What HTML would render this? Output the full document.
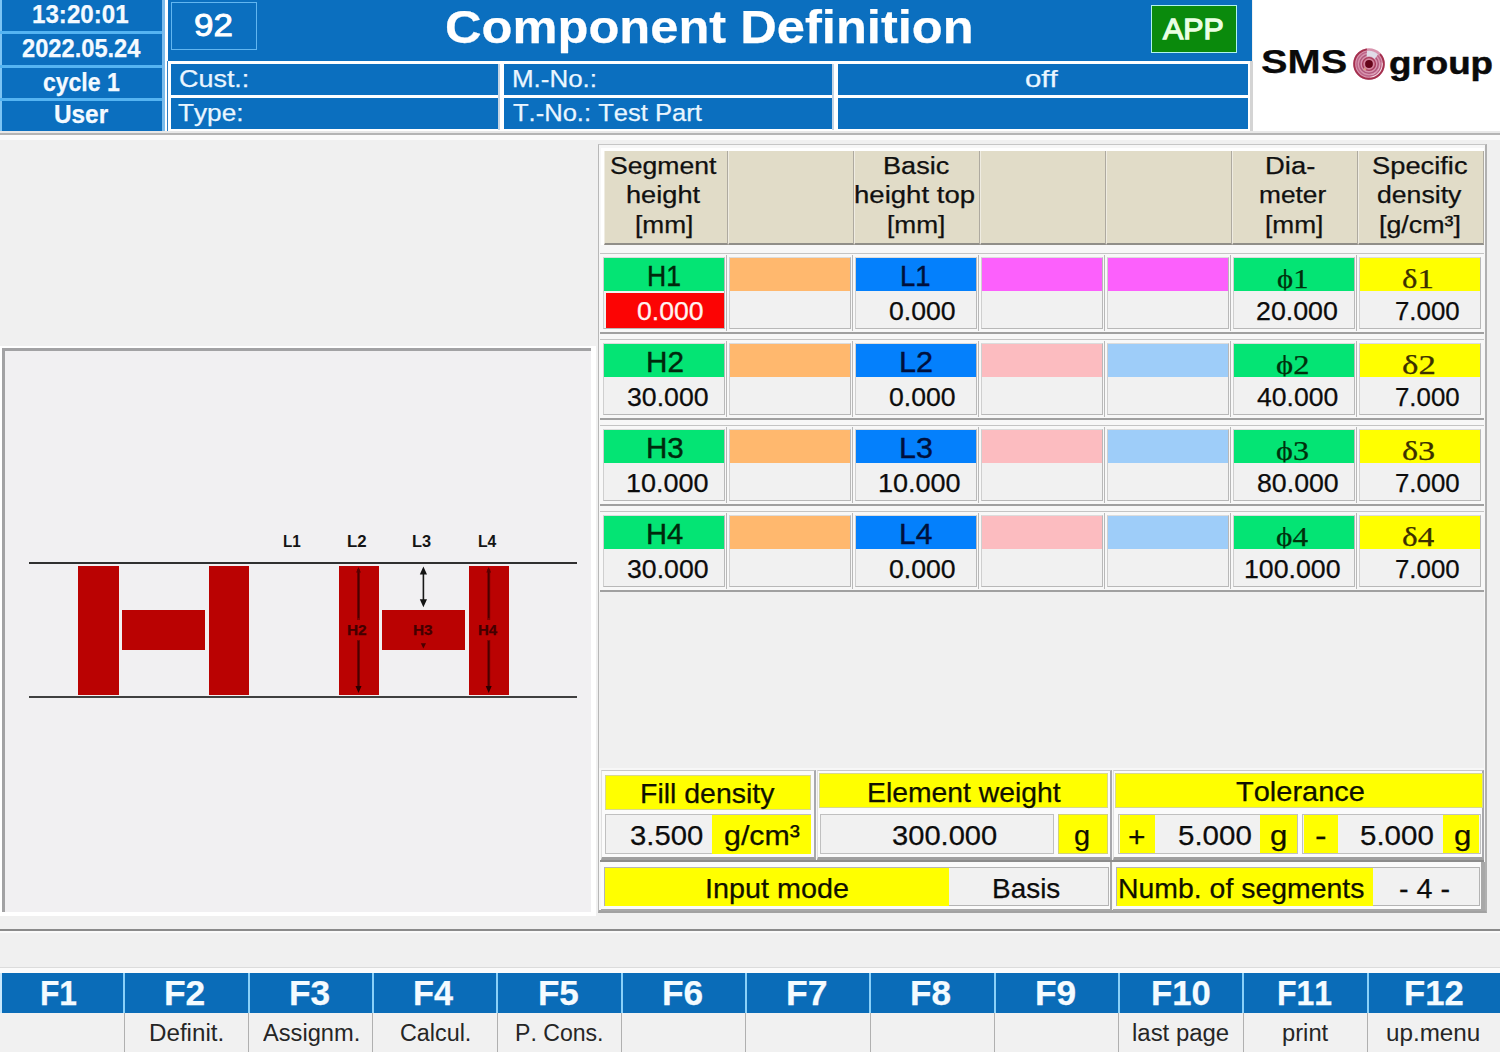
<!DOCTYPE html>
<html><head><meta charset="utf-8"><title>Component Definition</title>
<style>
html,body{margin:0;padding:0;}
body{width:1500px;height:1052px;overflow:hidden;background:#f0f0f0;position:relative;font-family:"Liberation Sans",sans-serif;}
div{position:absolute;box-sizing:border-box;}
#header,#diagram,#table,#fkeys{left:0;top:0;width:1500px;height:0;}
.abs{position:absolute;}
.t{position:absolute;white-space:nowrap;display:inline-block;transform-origin:left center;-webkit-text-stroke:0.25px;font-kerning:none;font-variant-ligatures:none;}
</style></head><body>
<div id="header">
<div style="left:0px;top:0px;width:162px;height:131.2px;background:#0b6fbf;"></div>
<div style="left:0px;top:0px;width:1.5px;height:131px;background:#7cc4f4;"></div>
<div style="left:0px;top:31px;width:162px;height:3px;background:#55b4f2;"></div>
<div style="left:0px;top:65px;width:162px;height:3px;background:#55b4f2;"></div>
<div style="left:0px;top:98px;width:162px;height:3px;background:#55b4f2;"></div>
<div style="left:162px;top:0px;width:2.7px;height:131px;background:#7cbcec;"></div>
<div style="left:164.7px;top:0px;width:3.3px;height:132px;background:#ffffff;"></div>
<span class="t" style="left:31.78px;top:-0.91px;font-size:26px;line-height:31px;color:#f4faff;transform:scaleX(0.9281);font-weight:bold;">13:20:01</span>
<span class="t" style="left:21.68px;top:33.19px;font-size:26px;line-height:31px;color:#f4faff;transform:scaleX(0.9102);font-weight:bold;">2022.05.24</span>
<span class="t" style="left:42.90px;top:67.29px;font-size:26px;line-height:31px;color:#f4faff;transform:scaleX(0.8846);font-weight:bold;">cycle 1</span>
<span class="t" style="left:54.24px;top:99.49px;font-size:26px;line-height:31px;color:#f4faff;transform:scaleX(0.9363);font-weight:bold;">User</span>
<div style="left:168px;top:0px;width:1084px;height:131px;background:#0b6fbf;"></div>
<div style="left:171px;top:2px;width:86px;height:48px;border:1.5px solid #62b6f0;"></div>
<span class="t" style="left:193.86px;top:6.41px;font-size:32px;line-height:38px;color:#fff;transform:scaleX(1.0928);-webkit-text-stroke:0.9px #fff;">92</span>
<span class="t" style="left:445.42px;top:-0.69px;font-size:47px;line-height:56px;color:#fff;transform:scaleX(1.0772);font-weight:bold;">Component Definition</span>
<div style="left:1151px;top:5px;width:86px;height:48px;background:#0a8a0c;border:1.5px solid #b0f4ec;"></div>
<span class="t" style="left:1163.44px;top:10.90px;font-size:30px;line-height:36px;color:#eaffe4;transform:scaleX(1.0105);-webkit-text-stroke:1.3px #eaffe4;">APP</span>
<div style="left:168px;top:60.5px;width:1082px;height:71.5px;background:#ffffff;"></div>
<div style="left:171px;top:63.5px;width:327px;height:31.5px;background:#0b6fbf;"></div>
<div style="left:171px;top:98px;width:327px;height:31px;background:#0b6fbf;"></div>
<div style="left:504px;top:63.5px;width:328px;height:31.5px;background:#0b6fbf;"></div>
<div style="left:504px;top:98px;width:328px;height:31px;background:#0b6fbf;"></div>
<div style="left:838px;top:63.5px;width:409.5px;height:31.5px;background:#0b6fbf;"></div>
<div style="left:838px;top:98px;width:409.5px;height:31px;background:#0b6fbf;"></div>
<div style="left:498px;top:63.5px;width:2px;height:66px;background:#c4d4e4;"></div>
<div style="left:832px;top:63.5px;width:2px;height:66px;background:#c4d4e4;"></div>
<div style="left:167.3px;top:61px;width:1px;height:70px;background:#2a7cc4;"></div>
<span class="t" style="left:179.13px;top:64.11px;font-size:24.5px;line-height:29px;color:#eaf6ff;transform:scaleX(1.0990);">Cust.:</span>
<span class="t" style="left:178.41px;top:98.01px;font-size:24.5px;line-height:29px;color:#eaf6ff;transform:scaleX(1.0686);">Type:</span>
<span class="t" style="left:512.37px;top:64.11px;font-size:24.5px;line-height:29px;color:#eaf6ff;transform:scaleX(1.0584);">M.-No.:</span>
<span class="t" style="left:512.93px;top:98.01px;font-size:24.5px;line-height:29px;color:#eaf6ff;transform:scaleX(1.0425);">T.-No.: Test Part</span>
<span class="t" style="left:1025.27px;top:64.11px;font-size:24.5px;line-height:29px;color:#eaf6ff;transform:scaleX(1.2002);">off</span>
<div style="left:1253px;top:0px;width:247px;height:132px;background:#ffffff;"></div>
<div style="left:1250px;top:60.5px;width:2.5px;height:72px;background:#d4d4d4;"></div>
<div style="left:0px;top:131px;width:1500px;height:1.5px;background:#e8e8e8;"></div>
<div style="left:0px;top:132.5px;width:1500px;height:2px;background:#b4b4b4;"></div>
<div style="left:0px;top:134.5px;width:1500px;height:5px;background:#fafafa;"></div>
<span class="t" style="left:1261.35px;top:41.87px;font-size:33px;line-height:40px;color:#0a0a0a;transform:scaleX(1.2054);font-weight:bold;">SMS</span>
<span class="t" style="left:1389.49px;top:43.91px;font-size:32px;line-height:38px;color:#0a0a0a;transform:scaleX(1.1475);font-weight:bold;-webkit-text-stroke:0.5px;">group</span>
<svg class="abs" style="left:1349.8px;top:44.8px" width="38" height="38" viewBox="-19 -19 38 38">
<circle r="15.8" fill="#d894ae"/>
<path d="M2,11 A11.5,11.5 0 0 0 11,-2 L14,-1 A14,14 0 0 1 1,14 Z" fill="#f6dde6"/>
<circle r="14.8" fill="none" stroke="#a4304e" stroke-width="1.9" stroke-dasharray="78 15" transform="rotate(-42)"/>
<circle r="12" fill="none" stroke="#bc6488" stroke-width="1.5"/>
<circle r="9.3" fill="none" stroke="#b0587c" stroke-width="1.5"/>
<path d="M-2,-13 A13,13 0 0 1 9,-9.4 L5.6,-5 A7.5,7.5 0 0 0 -2.4,-7.2 Z" fill="#e0dce8"/>
<circle r="6.8" fill="#d4849e"/>
<circle r="6.4" fill="none" stroke="#a83c5c" stroke-width="1.4"/>
<path d="M-4.6,3 L-5.4,6.6 L-2.4,5.6 Z" fill="#dca088"/>
<circle r="3.9" fill="#640418"/>
</svg>
</div>
<div id="diagram">
<div style="left:0px;top:346px;width:595.6px;height:569.6px;background:#ffffff;"></div>
<div style="left:2px;top:348px;width:589.4px;height:564px;background:#f1f0f2;border-top:3px solid #a2a2a4;border-left:3px solid #a2a2a4;"></div>
<div style="left:29px;top:562px;width:548px;height:2px;background:#303030;"></div>
<div style="left:29px;top:695.5px;width:548px;height:2px;background:#404040;"></div>
<div style="left:78px;top:565.5px;width:40.5px;height:129.5px;background:#ba0202;"></div>
<div style="left:121.5px;top:610px;width:83.5px;height:39.5px;background:#ba0202;"></div>
<div style="left:208.5px;top:565.5px;width:40.19999999999999px;height:129.5px;background:#ba0202;"></div>
<div style="left:339px;top:565.5px;width:40px;height:129.5px;background:#ba0202;"></div>
<div style="left:381.5px;top:610px;width:83.5px;height:39.5px;background:#ba0202;"></div>
<div style="left:469.3px;top:565.5px;width:39.69999999999999px;height:129.5px;background:#ba0202;"></div>
<span class="t" style="left:282.78px;top:530.58px;font-size:16.5px;line-height:20px;color:#141414;transform:scaleX(0.9270);font-weight:bold;-webkit-text-stroke:0;">L1</span>
<span class="t" style="left:347.48px;top:530.58px;font-size:16.5px;line-height:20px;color:#141414;transform:scaleX(1.0177);font-weight:bold;-webkit-text-stroke:0;">L2</span>
<span class="t" style="left:412.31px;top:530.58px;font-size:16.5px;line-height:20px;color:#141414;transform:scaleX(0.9911);font-weight:bold;-webkit-text-stroke:0;">L3</span>
<span class="t" style="left:477.95px;top:530.58px;font-size:16.5px;line-height:20px;color:#141414;transform:scaleX(0.9522);font-weight:bold;-webkit-text-stroke:0;">L4</span>
<svg class="abs" style="left:330px;top:560px" width="190" height="140" viewBox="330 560 190 140">
<line x1="423.4" y1="572" x2="423.4" y2="602" stroke="#181818" stroke-width="1.6"/>
<path d="M423.4,566.5 l-3.6,8 h7.2z M423.4,607.2 l-3.6,-8 h7.2z" fill="#141414"/>
<g stroke="#7c0000" stroke-width="3">
<line x1="358.5" y1="569" x2="358.5" y2="620"/><line x1="358.5" y1="640" x2="358.5" y2="688"/>
<line x1="488.7" y1="569" x2="488.7" y2="620"/><line x1="488.7" y1="640" x2="488.7" y2="688"/>
</g>
<g stroke="#4a0000" stroke-width="1.4">
<line x1="358.5" y1="571" x2="358.5" y2="618"/><line x1="358.5" y1="641" x2="358.5" y2="688"/>
<line x1="488.7" y1="571" x2="488.7" y2="618"/><line x1="488.7" y1="641" x2="488.7" y2="688"/>
</g>
<path d="M358.5,567 l-2.4,5.5 h4.8z M488.7,567 l-2.4,5.5 h4.8z" fill="#5a0000"/>
<path d="M358.5,693 l-3,-7 h6z M488.7,693 l-3,-7 h6z" fill="#2a0000"/>
<path d="M423.4,648.6 l-2.6,-5.4 h5.2z" fill="#4a0000"/>
</svg>
<span class="t" style="left:346.97px;top:621.65px;font-size:14px;line-height:17px;color:#420000;transform:scaleX(1.0976);font-weight:bold;">H2</span>
<span class="t" style="left:412.98px;top:621.65px;font-size:14px;line-height:17px;color:#420000;transform:scaleX(1.0940);font-weight:bold;">H3</span>
<span class="t" style="left:477.50px;top:621.65px;font-size:14px;line-height:17px;color:#420000;transform:scaleX(1.0660);font-weight:bold;">H4</span>
</div>
<div id="table">
<div style="left:597.5px;top:144px;width:889.5px;height:769px;background:#f7f7f7;border:1.5px solid #b8b8b8;border-top-color:#c6c6c6;border-bottom:3px solid #a2a2a2;border-right:2.5px solid #b0b0b0;"></div>
<div style="left:599px;top:592px;width:885px;height:176px;background:#f0f0f0;"></div>
<div style="left:601px;top:148px;width:883px;height:97px;background:#ffffff;"></div>
<div style="left:603.5px;top:150.5px;width:124.3px;height:94px;background:#e1dcc8;border-right:1.5px solid #aeaaa0;border-bottom:2px solid #908e88;border-left:1.5px solid #efece2;"></div>
<div style="left:727.8px;top:150.5px;width:126px;height:94px;background:#e1dcc8;border-right:1.5px solid #aeaaa0;border-bottom:2px solid #908e88;border-left:1.5px solid #efece2;"></div>
<div style="left:853.8px;top:150.5px;width:126px;height:94px;background:#e1dcc8;border-right:1.5px solid #aeaaa0;border-bottom:2px solid #908e88;border-left:1.5px solid #efece2;"></div>
<div style="left:979.8px;top:150.5px;width:126px;height:94px;background:#e1dcc8;border-right:1.5px solid #aeaaa0;border-bottom:2px solid #908e88;border-left:1.5px solid #efece2;"></div>
<div style="left:1105.8px;top:150.5px;width:126px;height:94px;background:#e1dcc8;border-right:1.5px solid #aeaaa0;border-bottom:2px solid #908e88;border-left:1.5px solid #efece2;"></div>
<div style="left:1231.8px;top:150.5px;width:126px;height:94px;background:#e1dcc8;border-right:1.5px solid #aeaaa0;border-bottom:2px solid #908e88;border-left:1.5px solid #efece2;"></div>
<div style="left:1357.8px;top:150.5px;width:126px;height:94px;background:#e1dcc8;border-right:1.5px solid #aeaaa0;border-bottom:2px solid #908e88;border-left:1.5px solid #efece2;"></div>
<span class="t" style="left:610.29px;top:151.66px;font-size:23.5px;line-height:28px;color:#101010;transform:scaleX(1.1312);">Segment</span>
<span class="t" style="left:626.11px;top:181.46px;font-size:23.5px;line-height:28px;color:#101010;transform:scaleX(1.1571);">height</span>
<span class="t" style="left:634.83px;top:211.26px;font-size:23.5px;line-height:28px;color:#101010;transform:scaleX(1.1175);">[mm]</span>
<span class="t" style="left:883.33px;top:151.66px;font-size:23.5px;line-height:28px;color:#101010;transform:scaleX(1.1526);">Basic</span>
<span class="t" style="left:854.09px;top:181.46px;font-size:23.5px;line-height:28px;color:#101010;transform:scaleX(1.1729);">height top</span>
<span class="t" style="left:886.83px;top:211.26px;font-size:23.5px;line-height:28px;color:#101010;transform:scaleX(1.1175);">[mm]</span>
<span class="t" style="left:1265.05px;top:151.66px;font-size:23.5px;line-height:28px;color:#101010;transform:scaleX(1.1666);">Dia-</span>
<span class="t" style="left:1258.55px;top:181.46px;font-size:23.5px;line-height:28px;color:#101010;transform:scaleX(1.1184);">meter</span>
<span class="t" style="left:1264.83px;top:211.26px;font-size:23.5px;line-height:28px;color:#101010;transform:scaleX(1.1175);">[mm]</span>
<span class="t" style="left:1371.96px;top:151.66px;font-size:23.5px;line-height:28px;color:#101010;transform:scaleX(1.1613);">Specific</span>
<span class="t" style="left:1377.28px;top:181.46px;font-size:23.5px;line-height:28px;color:#101010;transform:scaleX(1.1331);">density</span>
<span class="t" style="left:1379.09px;top:211.26px;font-size:23.5px;line-height:28px;color:#101010;transform:scaleX(1.1394);">[g/cm³]</span>
<div style="left:600px;top:253px;width:884px;height:80.5px;background:#f8f8f8;border-top:1px solid #c4c4c4;border-bottom:2px solid #a0a0a0;"></div>
<div style="left:603px;top:257px;width:122px;height:71.5px;background:#f1f1f1;border:1px solid #b8b8b8;border-top-color:#dcdcdc;border-left-color:#cfcfcf;"></div>
<div style="left:604px;top:258px;width:120px;height:33px;background:#04e474;"></div>
<div style="left:606px;top:293px;width:117.5px;height:34.5px;background:#fc0404;"></div>
<span class="t" style="left:646.87px;top:257.58px;font-size:29.5px;line-height:35px;color:#00280c;transform:scaleX(0.9010);-webkit-text-stroke:0.4px;">H1</span>
<span class="t" style="left:637.06px;top:295.64px;font-size:25px;line-height:30px;color:#fff4f0;transform:scaleX(1.0642);">0.000</span>
<div style="left:726px;top:255px;width:1px;height:76px;background:#b8b8b8;"></div>
<div style="left:729px;top:257px;width:122px;height:71.5px;background:#f1f1f1;border:1px solid #b8b8b8;border-top-color:#dcdcdc;border-left-color:#cfcfcf;"></div>
<div style="left:730px;top:258px;width:120px;height:33px;background:#ffb86e;"></div>
<div style="left:852px;top:255px;width:1px;height:76px;background:#b8b8b8;"></div>
<div style="left:855px;top:257px;width:122px;height:71.5px;background:#f1f1f1;border:1px solid #b8b8b8;border-top-color:#dcdcdc;border-left-color:#cfcfcf;"></div>
<div style="left:856px;top:258px;width:120px;height:33px;background:#0480fc;"></div>
<span class="t" style="left:899.74px;top:257.58px;font-size:29.5px;line-height:35px;color:#00103c;transform:scaleX(0.9326);-webkit-text-stroke:0.4px;">L1</span>
<span class="t" style="left:889.06px;top:295.64px;font-size:25px;line-height:30px;color:#0c0c0c;transform:scaleX(1.0642);">0.000</span>
<div style="left:978px;top:255px;width:1px;height:76px;background:#b8b8b8;"></div>
<div style="left:981px;top:257px;width:122px;height:71.5px;background:#f1f1f1;border:1px solid #b8b8b8;border-top-color:#dcdcdc;border-left-color:#cfcfcf;"></div>
<div style="left:982px;top:258px;width:120px;height:33px;background:#fc60fc;"></div>
<div style="left:1104px;top:255px;width:1px;height:76px;background:#b8b8b8;"></div>
<div style="left:1107px;top:257px;width:122px;height:71.5px;background:#f1f1f1;border:1px solid #b8b8b8;border-top-color:#dcdcdc;border-left-color:#cfcfcf;"></div>
<div style="left:1108px;top:258px;width:120px;height:33px;background:#fc60fc;"></div>
<div style="left:1230px;top:255px;width:1px;height:76px;background:#b8b8b8;"></div>
<div style="left:1233px;top:257px;width:122px;height:71.5px;background:#f1f1f1;border:1px solid #b8b8b8;border-top-color:#dcdcdc;border-left-color:#cfcfcf;"></div>
<div style="left:1234px;top:258px;width:120px;height:33px;background:#04e474;"></div>
<span class="t" style="left:1276.67px;top:262.05px;font-size:28px;line-height:34px;color:#00300c;transform:scaleX(1.0952);font-family:'Liberation Serif',serif;clip-path:inset(0 0 5.5px 0);">ϕ1</span>
<span class="t" style="left:1256.35px;top:295.64px;font-size:25px;line-height:30px;color:#0c0c0c;transform:scaleX(1.0710);">20.000</span>
<div style="left:1356px;top:255px;width:1px;height:76px;background:#b8b8b8;"></div>
<div style="left:1359px;top:257px;width:122px;height:71.5px;background:#f1f1f1;border:1px solid #b8b8b8;border-top-color:#dcdcdc;border-left-color:#cfcfcf;"></div>
<div style="left:1360px;top:258px;width:120px;height:33px;background:#ffff00;"></div>
<span class="t" style="left:1402.47px;top:262.05px;font-size:28px;line-height:34px;color:#3c3000;transform:scaleX(1.1693);font-family:'Liberation Serif',serif;clip-path:inset(0 0 5.5px 0);">δ1</span>
<span class="t" style="left:1394.58px;top:295.64px;font-size:25px;line-height:30px;color:#0c0c0c;transform:scaleX(1.0331);">7.000</span>
<div style="left:600px;top:339px;width:884px;height:80.5px;background:#f8f8f8;border-top:1px solid #c4c4c4;border-bottom:2px solid #a0a0a0;"></div>
<div style="left:603px;top:343px;width:122px;height:71.5px;background:#f1f1f1;border:1px solid #b8b8b8;border-top-color:#dcdcdc;border-left-color:#cfcfcf;"></div>
<div style="left:604px;top:344px;width:120px;height:33px;background:#04e474;"></div>
<span class="t" style="left:645.87px;top:343.58px;font-size:29.5px;line-height:35px;color:#00280c;transform:scaleX(1.0057);-webkit-text-stroke:0.4px;">H2</span>
<span class="t" style="left:626.68px;top:381.64px;font-size:25px;line-height:30px;color:#0c0c0c;transform:scaleX(1.0666);">30.000</span>
<div style="left:726px;top:341px;width:1px;height:76px;background:#b8b8b8;"></div>
<div style="left:729px;top:343px;width:122px;height:71.5px;background:#f1f1f1;border:1px solid #b8b8b8;border-top-color:#dcdcdc;border-left-color:#cfcfcf;"></div>
<div style="left:730px;top:344px;width:120px;height:33px;background:#ffb86e;"></div>
<div style="left:852px;top:341px;width:1px;height:76px;background:#b8b8b8;"></div>
<div style="left:855px;top:343px;width:122px;height:71.5px;background:#f1f1f1;border:1px solid #b8b8b8;border-top-color:#dcdcdc;border-left-color:#cfcfcf;"></div>
<div style="left:856px;top:344px;width:120px;height:33px;background:#0480fc;"></div>
<span class="t" style="left:898.99px;top:343.58px;font-size:29.5px;line-height:35px;color:#00103c;transform:scaleX(1.0377);-webkit-text-stroke:0.4px;">L2</span>
<span class="t" style="left:889.06px;top:381.64px;font-size:25px;line-height:30px;color:#0c0c0c;transform:scaleX(1.0642);">0.000</span>
<div style="left:978px;top:341px;width:1px;height:76px;background:#b8b8b8;"></div>
<div style="left:981px;top:343px;width:122px;height:71.5px;background:#f1f1f1;border:1px solid #b8b8b8;border-top-color:#dcdcdc;border-left-color:#cfcfcf;"></div>
<div style="left:982px;top:344px;width:120px;height:33px;background:#fcbcc0;"></div>
<div style="left:1104px;top:341px;width:1px;height:76px;background:#b8b8b8;"></div>
<div style="left:1107px;top:343px;width:122px;height:71.5px;background:#f1f1f1;border:1px solid #b8b8b8;border-top-color:#dcdcdc;border-left-color:#cfcfcf;"></div>
<div style="left:1108px;top:344px;width:120px;height:33px;background:#9ecdf9;"></div>
<div style="left:1230px;top:341px;width:1px;height:76px;background:#b8b8b8;"></div>
<div style="left:1233px;top:343px;width:122px;height:71.5px;background:#f1f1f1;border:1px solid #b8b8b8;border-top-color:#dcdcdc;border-left-color:#cfcfcf;"></div>
<div style="left:1234px;top:344px;width:120px;height:33px;background:#04e474;"></div>
<span class="t" style="left:1276.10px;top:348.05px;font-size:28px;line-height:34px;color:#00300c;transform:scaleX(1.1657);font-family:'Liberation Serif',serif;clip-path:inset(0 0 5.5px 0);">ϕ2</span>
<span class="t" style="left:1257.09px;top:381.64px;font-size:25px;line-height:30px;color:#0c0c0c;transform:scaleX(1.0612);">40.000</span>
<div style="left:1356px;top:341px;width:1px;height:76px;background:#b8b8b8;"></div>
<div style="left:1359px;top:343px;width:122px;height:71.5px;background:#f1f1f1;border:1px solid #b8b8b8;border-top-color:#dcdcdc;border-left-color:#cfcfcf;"></div>
<div style="left:1360px;top:344px;width:120px;height:33px;background:#ffff00;"></div>
<span class="t" style="left:1401.89px;top:348.05px;font-size:28px;line-height:34px;color:#3c3000;transform:scaleX(1.2441);font-family:'Liberation Serif',serif;clip-path:inset(0 0 5.5px 0);">δ2</span>
<span class="t" style="left:1394.58px;top:381.64px;font-size:25px;line-height:30px;color:#0c0c0c;transform:scaleX(1.0331);">7.000</span>
<div style="left:600px;top:425px;width:884px;height:80.5px;background:#f8f8f8;border-top:1px solid #c4c4c4;border-bottom:2px solid #a0a0a0;"></div>
<div style="left:603px;top:429px;width:122px;height:71.5px;background:#f1f1f1;border:1px solid #b8b8b8;border-top-color:#dcdcdc;border-left-color:#cfcfcf;"></div>
<div style="left:604px;top:430px;width:120px;height:33px;background:#04e474;"></div>
<span class="t" style="left:645.88px;top:429.58px;font-size:29.5px;line-height:35px;color:#00280c;transform:scaleX(1.0002);-webkit-text-stroke:0.4px;">H3</span>
<span class="t" style="left:625.64px;top:467.64px;font-size:25px;line-height:30px;color:#0c0c0c;transform:scaleX(1.0804);">10.000</span>
<div style="left:726px;top:427px;width:1px;height:76px;background:#b8b8b8;"></div>
<div style="left:729px;top:429px;width:122px;height:71.5px;background:#f1f1f1;border:1px solid #b8b8b8;border-top-color:#dcdcdc;border-left-color:#cfcfcf;"></div>
<div style="left:730px;top:430px;width:120px;height:33px;background:#ffb86e;"></div>
<div style="left:852px;top:427px;width:1px;height:76px;background:#b8b8b8;"></div>
<div style="left:855px;top:429px;width:122px;height:71.5px;background:#f1f1f1;border:1px solid #b8b8b8;border-top-color:#dcdcdc;border-left-color:#cfcfcf;"></div>
<div style="left:856px;top:430px;width:120px;height:33px;background:#0480fc;"></div>
<span class="t" style="left:899.00px;top:429.58px;font-size:29.5px;line-height:35px;color:#00103c;transform:scaleX(1.0310);-webkit-text-stroke:0.4px;">L3</span>
<span class="t" style="left:877.64px;top:467.64px;font-size:25px;line-height:30px;color:#0c0c0c;transform:scaleX(1.0804);">10.000</span>
<div style="left:978px;top:427px;width:1px;height:76px;background:#b8b8b8;"></div>
<div style="left:981px;top:429px;width:122px;height:71.5px;background:#f1f1f1;border:1px solid #b8b8b8;border-top-color:#dcdcdc;border-left-color:#cfcfcf;"></div>
<div style="left:982px;top:430px;width:120px;height:33px;background:#fcbcc0;"></div>
<div style="left:1104px;top:427px;width:1px;height:76px;background:#b8b8b8;"></div>
<div style="left:1107px;top:429px;width:122px;height:71.5px;background:#f1f1f1;border:1px solid #b8b8b8;border-top-color:#dcdcdc;border-left-color:#cfcfcf;"></div>
<div style="left:1108px;top:430px;width:120px;height:33px;background:#9ecdf9;"></div>
<div style="left:1230px;top:427px;width:1px;height:76px;background:#b8b8b8;"></div>
<div style="left:1233px;top:429px;width:122px;height:71.5px;background:#f1f1f1;border:1px solid #b8b8b8;border-top-color:#dcdcdc;border-left-color:#cfcfcf;"></div>
<div style="left:1234px;top:430px;width:120px;height:33px;background:#04e474;"></div>
<span class="t" style="left:1276.12px;top:434.05px;font-size:28px;line-height:34px;color:#00300c;transform:scaleX(1.1460);font-family:'Liberation Serif',serif;clip-path:inset(0 0 5.5px 0);">ϕ3</span>
<span class="t" style="left:1256.54px;top:467.64px;font-size:25px;line-height:30px;color:#0c0c0c;transform:scaleX(1.0685);">80.000</span>
<div style="left:1356px;top:427px;width:1px;height:76px;background:#b8b8b8;"></div>
<div style="left:1359px;top:429px;width:122px;height:71.5px;background:#f1f1f1;border:1px solid #b8b8b8;border-top-color:#dcdcdc;border-left-color:#cfcfcf;"></div>
<div style="left:1360px;top:430px;width:120px;height:33px;background:#ffff00;"></div>
<span class="t" style="left:1401.91px;top:434.05px;font-size:28px;line-height:34px;color:#3c3000;transform:scaleX(1.2217);font-family:'Liberation Serif',serif;clip-path:inset(0 0 5.5px 0);">δ3</span>
<span class="t" style="left:1394.58px;top:467.64px;font-size:25px;line-height:30px;color:#0c0c0c;transform:scaleX(1.0331);">7.000</span>
<div style="left:600px;top:511px;width:884px;height:80.5px;background:#f8f8f8;border-top:1px solid #c4c4c4;border-bottom:2px solid #a0a0a0;"></div>
<div style="left:603px;top:515px;width:122px;height:71.5px;background:#f1f1f1;border:1px solid #b8b8b8;border-top-color:#dcdcdc;border-left-color:#cfcfcf;"></div>
<div style="left:604px;top:516px;width:120px;height:33px;background:#04e474;"></div>
<span class="t" style="left:645.91px;top:515.58px;font-size:29.5px;line-height:35px;color:#00280c;transform:scaleX(0.9876);-webkit-text-stroke:0.4px;">H4</span>
<span class="t" style="left:626.68px;top:553.64px;font-size:25px;line-height:30px;color:#0c0c0c;transform:scaleX(1.0666);">30.000</span>
<div style="left:726px;top:513px;width:1px;height:76px;background:#b8b8b8;"></div>
<div style="left:729px;top:515px;width:122px;height:71.5px;background:#f1f1f1;border:1px solid #b8b8b8;border-top-color:#dcdcdc;border-left-color:#cfcfcf;"></div>
<div style="left:730px;top:516px;width:120px;height:33px;background:#ffb86e;"></div>
<div style="left:852px;top:513px;width:1px;height:76px;background:#b8b8b8;"></div>
<div style="left:855px;top:515px;width:122px;height:71.5px;background:#f1f1f1;border:1px solid #b8b8b8;border-top-color:#dcdcdc;border-left-color:#cfcfcf;"></div>
<div style="left:856px;top:516px;width:120px;height:33px;background:#0480fc;"></div>
<span class="t" style="left:899.04px;top:515.58px;font-size:29.5px;line-height:35px;color:#00103c;transform:scaleX(1.0160);-webkit-text-stroke:0.4px;">L4</span>
<span class="t" style="left:889.06px;top:553.64px;font-size:25px;line-height:30px;color:#0c0c0c;transform:scaleX(1.0642);">0.000</span>
<div style="left:978px;top:513px;width:1px;height:76px;background:#b8b8b8;"></div>
<div style="left:981px;top:515px;width:122px;height:71.5px;background:#f1f1f1;border:1px solid #b8b8b8;border-top-color:#dcdcdc;border-left-color:#cfcfcf;"></div>
<div style="left:982px;top:516px;width:120px;height:33px;background:#fcbcc0;"></div>
<div style="left:1104px;top:513px;width:1px;height:76px;background:#b8b8b8;"></div>
<div style="left:1107px;top:515px;width:122px;height:71.5px;background:#f1f1f1;border:1px solid #b8b8b8;border-top-color:#dcdcdc;border-left-color:#cfcfcf;"></div>
<div style="left:1108px;top:516px;width:120px;height:33px;background:#9ecdf9;"></div>
<div style="left:1230px;top:513px;width:1px;height:76px;background:#b8b8b8;"></div>
<div style="left:1233px;top:515px;width:122px;height:71.5px;background:#f1f1f1;border:1px solid #b8b8b8;border-top-color:#dcdcdc;border-left-color:#cfcfcf;"></div>
<div style="left:1234px;top:516px;width:120px;height:33px;background:#04e474;"></div>
<span class="t" style="left:1276.14px;top:520.05px;font-size:28px;line-height:34px;color:#00300c;transform:scaleX(1.1185);font-family:'Liberation Serif',serif;clip-path:inset(0 0 5.5px 0);">ϕ4</span>
<span class="t" style="left:1243.96px;top:553.64px;font-size:25px;line-height:30px;color:#0c0c0c;transform:scaleX(1.0687);">100.000</span>
<div style="left:1356px;top:513px;width:1px;height:76px;background:#b8b8b8;"></div>
<div style="left:1359px;top:515px;width:122px;height:71.5px;background:#f1f1f1;border:1px solid #b8b8b8;border-top-color:#dcdcdc;border-left-color:#cfcfcf;"></div>
<div style="left:1360px;top:516px;width:120px;height:33px;background:#ffff00;"></div>
<span class="t" style="left:1401.95px;top:520.05px;font-size:28px;line-height:34px;color:#3c3000;transform:scaleX(1.1905);font-family:'Liberation Serif',serif;clip-path:inset(0 0 5.5px 0);">δ4</span>
<span class="t" style="left:1394.58px;top:553.64px;font-size:25px;line-height:30px;color:#0c0c0c;transform:scaleX(1.0331);">7.000</span>
<div style="left:601px;top:770px;width:215px;height:90px;background:#fbfbfb;border-right:2px solid #a8a8ac;border-bottom:3px solid #a0a0a0;border-top:1px solid #c8c8c8;border-left:1px solid #e0e0e0;"></div>
<div style="left:817px;top:770px;width:295px;height:90px;background:#fbfbfb;border-right:2px solid #a8a8ac;border-bottom:3px solid #a0a0a0;border-top:1px solid #c8c8c8;border-left:1px solid #e0e0e0;"></div>
<div style="left:1113px;top:770px;width:371px;height:90px;background:#fbfbfb;border-right:2px solid #a8a8ac;border-bottom:3px solid #a0a0a0;border-top:1px solid #c8c8c8;border-left:1px solid #e0e0e0;"></div>
<div style="left:605px;top:775px;width:206px;height:35px;background:#ffff00;border:1px solid #d8d890;"></div>
<div style="left:605px;top:814px;width:206px;height:40px;background:#f1f1f1;border:1px solid #c0c0c0;"></div>
<div style="left:712px;top:815px;width:98.5px;height:38.5px;background:#ffff00;"></div>
<span class="t" style="left:640.17px;top:777.00px;font-size:28px;line-height:34px;color:#101000;transform:scaleX(1.0161);">Fill density</span>
<span class="t" style="left:630.39px;top:818.12px;font-size:28.5px;line-height:34px;color:#0c0c0c;transform:scaleX(1.0272);">3.500</span>
<span class="t" style="left:724.23px;top:818.12px;font-size:28.5px;line-height:34px;color:#101000;transform:scaleX(1.0648);">g/cm³</span>
<div style="left:819px;top:773px;width:289px;height:35px;background:#ffff00;border:1px solid #d8d890;"></div>
<div style="left:820px;top:814px;width:234px;height:40px;background:#f1f1f1;border:1px solid #c0c0c0;"></div>
<div style="left:1058px;top:814px;width:50px;height:40px;background:#ffff00;border:1px solid #d0d080;"></div>
<span class="t" style="left:867.18px;top:775.80px;font-size:28px;line-height:34px;color:#101000;transform:scaleX(1.0109);">Element weight</span>
<span class="t" style="left:892.39px;top:817.62px;font-size:28.5px;line-height:34px;color:#0c0c0c;transform:scaleX(1.0216);">300.000</span>
<span class="t" style="left:1074.29px;top:817.62px;font-size:28.5px;line-height:34px;color:#101000;transform:scaleX(1.0143);">g</span>
<div style="left:1115px;top:772.5px;width:367.5px;height:35px;background:#ffff00;border:1px solid #d8d890;"></div>
<div style="left:1118px;top:813.5px;width:180px;height:40.5px;background:#f1f1f1;border:1px solid #c0c0c0;"></div>
<div style="left:1302px;top:813.5px;width:178.5px;height:40.5px;background:#f1f1f1;border:1px solid #c0c0c0;"></div>
<div style="left:1120px;top:815px;width:35px;height:38px;background:#ffff00;"></div>
<div style="left:1260px;top:815px;width:36.5px;height:38px;background:#ffff00;"></div>
<div style="left:1304px;top:815px;width:33.5px;height:38px;background:#ffff00;"></div>
<div style="left:1443px;top:815px;width:36px;height:38px;background:#ffff00;"></div>
<span class="t" style="left:1235.85px;top:774.80px;font-size:28px;line-height:34px;color:#101000;transform:scaleX(1.0356);">Tolerance</span>
<span class="t" style="left:1128.04px;top:819.12px;font-size:28.5px;line-height:34px;color:#101000;transform:scaleX(1.0472);">+</span>
<span class="t" style="left:1177.82px;top:817.62px;font-size:28.5px;line-height:34px;color:#0c0c0c;transform:scaleX(1.0353);">5.000</span>
<span class="t" style="left:1269.69px;top:817.62px;font-size:28.5px;line-height:34px;color:#101000;transform:scaleX(1.0923);">g</span>
<span class="t" style="left:1314.95px;top:817.62px;font-size:28.5px;line-height:34px;color:#101000;transform:scaleX(1.2216);">-</span>
<span class="t" style="left:1360.32px;top:817.62px;font-size:28.5px;line-height:34px;color:#0c0c0c;transform:scaleX(1.0353);">5.000</span>
<span class="t" style="left:1453.69px;top:817.62px;font-size:28.5px;line-height:34px;color:#101000;transform:scaleX(1.0923);">g</span>
<div style="left:600px;top:860px;width:884px;height:2px;background:#8c8c8c;"></div>
<div style="left:601px;top:862px;width:511px;height:48.5px;background:#fbfbfb;border-right:2px solid #a8a8a8;border-bottom:2.5px solid #a8a8a8;"></div>
<div style="left:1113px;top:862px;width:372px;height:48.5px;background:#fbfbfb;border-right:4.5px solid #a8a8a8;border-bottom:2.5px solid #a8a8a8;"></div>
<div style="left:604px;top:867px;width:504.5px;height:39px;background:#f1f1f1;border:1px solid #b4b4b4;"></div>
<div style="left:605px;top:868px;width:344px;height:37.5px;background:#ffff00;"></div>
<div style="left:1116px;top:867px;width:364px;height:39px;background:#f1f1f1;border:1px solid #b4b4b4;"></div>
<div style="left:1117px;top:868px;width:255.5px;height:37.5px;background:#ffff00;"></div>
<span class="t" style="left:704.85px;top:872.00px;font-size:28px;line-height:34px;color:#101000;transform:scaleX(1.0274);">Input mode</span>
<span class="t" style="left:992.21px;top:871.60px;font-size:28px;line-height:34px;color:#0c0c0c;transform:scaleX(0.9975);">Basis</span>
<span class="t" style="left:1118.17px;top:871.42px;font-size:28.5px;line-height:34px;color:#101000;transform:scaleX(0.9970);">Numb. of segments</span>
<span class="t" style="left:1399.22px;top:871.90px;font-size:28px;line-height:34px;color:#0c0c0c;transform:scaleX(1.0256);">- 4 -</span>
</div>
<div id="fkeys">
<div style="left:0px;top:928.5px;width:1500px;height:2.5px;background:#8a8a8a;"></div>
<div style="left:0px;top:931px;width:1500px;height:1.5px;background:#fafafa;"></div>
<div style="left:0px;top:966.5px;width:1500px;height:1px;background:#dcdcdc;"></div>
<div style="left:0px;top:968px;width:1500px;height:5px;background:#fbfbfb;"></div>
<div style="left:0px;top:972.5px;width:1500px;height:40px;background:#0a6cb8;"></div>
<div style="left:0px;top:972.5px;width:1.5px;height:40px;background:#c8e8fc;"></div>
<div style="left:0px;top:1012.5px;width:1500px;height:40px;background:#f1f1f1;"></div>
<span class="t" style="left:40.24px;top:972.85px;font-size:34.5px;line-height:41px;color:#f4fbff;transform:scaleX(0.9191);font-weight:bold;">F1</span>
<div style="left:123px;top:972.5px;width:2px;height:40px;background:#8ad0f8;"></div>
<div style="left:124px;top:1012.5px;width:1px;height:40px;background:#b0b0b0;"></div>
<span class="t" style="left:164.48px;top:972.85px;font-size:34.5px;line-height:41px;color:#f4fbff;transform:scaleX(1.0254);font-weight:bold;">F2</span>
<span class="t" style="left:149.01px;top:1019.16px;font-size:23.5px;line-height:28px;color:#262626;transform:scaleX(1.0280);-webkit-text-stroke:0;">Definit.</span>
<div style="left:248px;top:972.5px;width:2px;height:40px;background:#8ad0f8;"></div>
<div style="left:248px;top:1012.5px;width:1px;height:40px;background:#b0b0b0;"></div>
<span class="t" style="left:288.82px;top:972.85px;font-size:34.5px;line-height:41px;color:#f4fbff;transform:scaleX(1.0216);font-weight:bold;">F3</span>
<span class="t" style="left:263.28px;top:1019.16px;font-size:23.5px;line-height:28px;color:#262626;transform:scaleX(1.0058);-webkit-text-stroke:0;">Assignm.</span>
<div style="left:372px;top:972.5px;width:2px;height:40px;background:#8ad0f8;"></div>
<div style="left:372px;top:1012.5px;width:1px;height:40px;background:#b0b0b0;"></div>
<span class="t" style="left:413.21px;top:972.85px;font-size:34.5px;line-height:41px;color:#f4fbff;transform:scaleX(0.9929);font-weight:bold;">F4</span>
<span class="t" style="left:399.97px;top:1019.16px;font-size:23.5px;line-height:28px;color:#262626;transform:scaleX(0.9928);-webkit-text-stroke:0;">Calcul.</span>
<div style="left:496px;top:972.5px;width:2px;height:40px;background:#8ad0f8;"></div>
<div style="left:497px;top:1012.5px;width:1px;height:40px;background:#b0b0b0;"></div>
<span class="t" style="left:537.50px;top:972.85px;font-size:34.5px;line-height:41px;color:#f4fbff;transform:scaleX(1.0137);font-weight:bold;">F5</span>
<span class="t" style="left:515.34px;top:1019.16px;font-size:23.5px;line-height:28px;color:#262626;transform:scaleX(0.9820);-webkit-text-stroke:0;">P. Cons.</span>
<div style="left:621px;top:972.5px;width:2px;height:40px;background:#8ad0f8;"></div>
<div style="left:621px;top:1012.5px;width:1px;height:40px;background:#b0b0b0;"></div>
<span class="t" style="left:661.81px;top:972.85px;font-size:34.5px;line-height:41px;color:#f4fbff;transform:scaleX(1.0216);font-weight:bold;">F6</span>
<div style="left:745px;top:972.5px;width:2px;height:40px;background:#8ad0f8;"></div>
<div style="left:745px;top:1012.5px;width:1px;height:40px;background:#b0b0b0;"></div>
<span class="t" style="left:786.12px;top:972.85px;font-size:34.5px;line-height:41px;color:#f4fbff;transform:scaleX(1.0292);font-weight:bold;">F7</span>
<div style="left:869px;top:972.5px;width:2px;height:40px;background:#8ad0f8;"></div>
<div style="left:870px;top:1012.5px;width:1px;height:40px;background:#b0b0b0;"></div>
<span class="t" style="left:910.48px;top:972.85px;font-size:34.5px;line-height:41px;color:#f4fbff;transform:scaleX(1.0165);font-weight:bold;">F8</span>
<div style="left:994px;top:972.5px;width:2px;height:40px;background:#8ad0f8;"></div>
<div style="left:994px;top:1012.5px;width:1px;height:40px;background:#b0b0b0;"></div>
<span class="t" style="left:1034.80px;top:972.85px;font-size:34.5px;line-height:41px;color:#f4fbff;transform:scaleX(1.0225);font-weight:bold;">F9</span>
<div style="left:1118px;top:972.5px;width:2px;height:40px;background:#8ad0f8;"></div>
<div style="left:1118px;top:1012.5px;width:1px;height:40px;background:#b0b0b0;"></div>
<span class="t" style="left:1150.82px;top:972.85px;font-size:34.5px;line-height:41px;color:#f4fbff;transform:scaleX(1.0049);font-weight:bold;">F10</span>
<span class="t" style="left:1132.27px;top:1019.16px;font-size:23.5px;line-height:28px;color:#262626;transform:scaleX(1.0189);-webkit-text-stroke:0;">last page</span>
<div style="left:1242px;top:972.5px;width:2px;height:40px;background:#8ad0f8;"></div>
<div style="left:1243px;top:1012.5px;width:1px;height:40px;background:#b0b0b0;"></div>
<span class="t" style="left:1277.33px;top:972.85px;font-size:34.5px;line-height:41px;color:#f4fbff;transform:scaleX(0.9256);font-weight:bold;">F11</span>
<span class="t" style="left:1281.68px;top:1019.16px;font-size:23.5px;line-height:28px;color:#262626;transform:scaleX(1.0107);-webkit-text-stroke:0;">print</span>
<div style="left:1367px;top:972.5px;width:2px;height:40px;background:#8ad0f8;"></div>
<div style="left:1367px;top:1012.5px;width:1px;height:40px;background:#b0b0b0;"></div>
<span class="t" style="left:1403.68px;top:972.85px;font-size:34.5px;line-height:41px;color:#f4fbff;transform:scaleX(1.0043);font-weight:bold;">F12</span>
<span class="t" style="left:1386.43px;top:1019.16px;font-size:23.5px;line-height:28px;color:#262626;transform:scaleX(1.0298);-webkit-text-stroke:0;">up.menu</span>
</div>
</body></html>
